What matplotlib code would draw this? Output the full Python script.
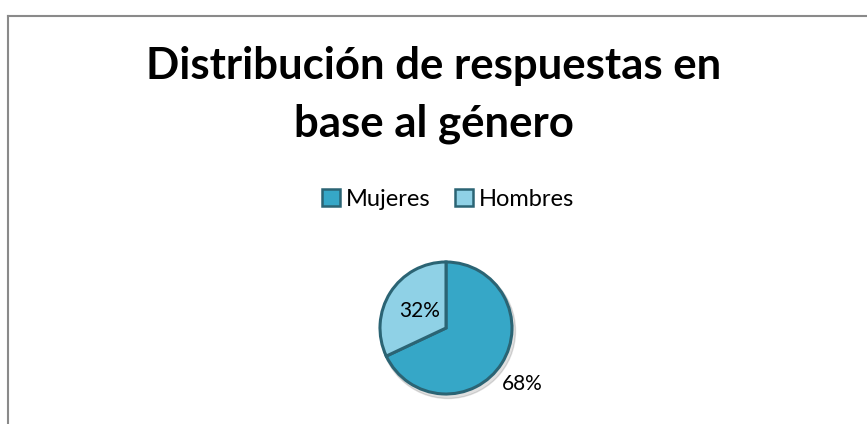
import matplotlib.pyplot as plt
from matplotlib.patches import Patch
from matplotlib.lines import Line2D
import numpy as np

categorias = ["Mujeres", "Hombres"]
valores = [68, 32]
colores = ["#36a7c7", "#8fd1e6"]
borde = "#2b6474"

plt.rcParams['font.family'] = ['Lato', 'DejaVu Sans']

fig = plt.figure(figsize=(8.67, 4.24), dpi=100)

# marco del grafico (cortado a la derecha y abajo)
fig.add_artist(Line2D([7.5/867, 1], [1 - 15.5/424, 1 - 15.5/424], color="#8a8a8a", lw=1.5))
fig.add_artist(Line2D([7.5/867, 7.5/867], [0, 1 - 15.5/424], color="#8a8a8a", lw=1.5))

titulo = ["Distribución de respuestas en", "base al género"]
for linea, base_y in zip(titulo, [79, 137]):
    fig.text(0.5, 1 - base_y/424, linea, ha="center", va="baseline",
             fontsize=31.5, fontweight="bold")

ax = fig.add_axes([0, 0, 1, 1])
cx, cy, r = 446, 424 - 328, 66
wedges, texts, autotexts = ax.pie(valores, colors=colores, startangle=90, counterclock=False,
                                  center=(cx, cy), radius=r, autopct="%1.0f%%", pctdistance=0.47,
                                  wedgeprops=dict(edgecolor=borde, linewidth=2.2),
                                  textprops=dict(fontsize=15, color="black"))
# sombra suave
ax.add_patch(plt.Circle((cx + 2, cy - 3), r + 1.5, color="#000000", alpha=0.12, zorder=0))

# etiqueta de Mujeres fuera del pastel (un poco mas abajo que el centro del sector)
w = wedges[0]
ang = np.deg2rad((w.theta1 + w.theta2) / 2 - 4)
autotexts[0].set_position((cx + 1.43 * r * np.cos(ang), cy + 1.43 * r * np.sin(ang)))

ax.set_xlim(0, 867)
ax.set_ylim(0, 424)
ax.set_aspect("equal")
ax.axis("off")

handles = [Patch(facecolor=c, edgecolor=borde, linewidth=1.8) for c in colores]
fig.legend(handles, categorias, loc="center", bbox_to_anchor=(448/867, 1 - 199/424), ncol=2,
           frameon=False, fontsize=17, handlelength=0.75, handleheight=0.75, handletextpad=0.25,
           columnspacing=1.05)

fig.savefig("out.png", dpi=100)
